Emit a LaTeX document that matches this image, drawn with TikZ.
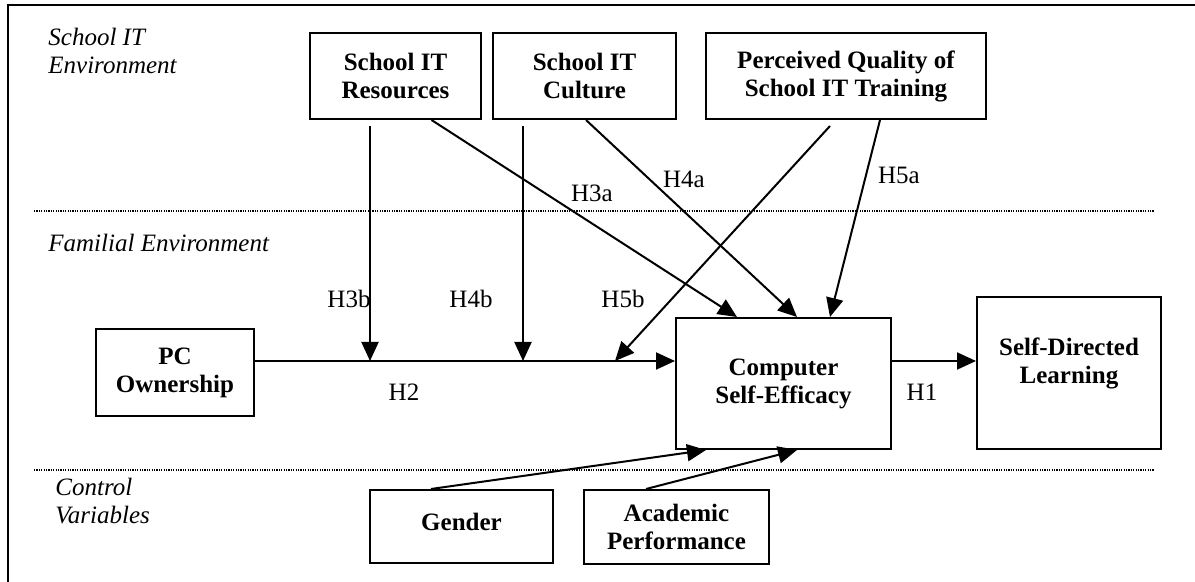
\documentclass[tikz,border=0pt]{standalone}
\usepackage{fontspec}
\setmainfont{Liberation Serif}
\usetikzlibrary{arrows.meta}

\begin{document}
\begin{tikzpicture}[x=0.5pt, y=-0.5pt,
  every node/.style={font=\fontsize{12.5}{14}\selectfont, align=center},
  box/.style={draw, line width=1pt, inner sep=0pt, font=\fontsize{12.5}{14}\selectfont\bfseries},
  arr/.style={line width=1pt, -{Triangle[length=9.5pt, width=8.5pt]}},
  sect/.style={inner sep=0pt, align=left, font=\fontsize{12.5}{14}\selectfont\itshape},
  hyp/.style={inner sep=0pt},
  divider/.style={line width=0.6pt, dash pattern=on 0.6pt off 0.6pt}]
  \useasboundingbox (0,0) rectangle (1195,582);
  % Frame
  \draw[line width=1pt] (8,582) -- (8,5) -- (1195,5);
  % Layers
  \draw[divider] (34,211) -- (1154,211);
  \draw[divider] (34,470) -- (1154,470);
  \node[sect, anchor=north west] (schoolenv) at (48,28) {School IT\\Environment};
  \node[sect, anchor=base west] (famenv) at (48,252) {Familial Environment};
  \node[sect, anchor=north west] (controls) at (55,478) {Control\\Variables};
  % Constructs
  \node[box, minimum width=85.5pt, minimum height=43pt] (res) at (395.5,76) {School IT\\Resources};
  \node[box, minimum width=91.5pt, minimum height=43pt] (cult) at (584.5,76) {School IT\\Culture};
  \node[box, minimum width=140pt, minimum height=43pt] (qual) at (846,76) {Perceived Quality of\\School IT Training};
  \node[box, minimum width=79pt, minimum height=43.5pt] (pc) at (175,372.5) {PC\\Ownership};
  \node[box, minimum width=107.5pt, minimum height=65.5pt] (cse) at (783.5,383.5) {Computer\\Self-Efficacy};
  \node[box, minimum width=92pt, minimum height=76pt, text depth=12pt] (sdl) at (1069,373) {Self-Directed\\Learning};
  \node[box, minimum width=91.5pt, minimum height=36.5pt, text depth=5pt] (gen) at (461.5,526.5) {Gender};
  \node[box, minimum width=92.5pt, minimum height=37pt] (acad) at (676.5,527) {Academic\\Performance};
  % Moderation points on the H2 path
  \coordinate (m3) at (370,361);
  \coordinate (m4) at (523,361);
  \coordinate (m5) at (615,361);
  % Main paths
  \draw[arr] (pc.east |- m3) -- (cse.west |- m3);
  \draw[arr] (cse.east |- m3) -- (sdl.west |- m3);
  % Moderators
  \draw[arr, shorten <=3pt] (res.south -| m3) -- (m3);
  \draw[arr, shorten <=3pt] (cult.south -| m4) -- (m4);
  \draw[arr] ([shift={(-8pt,-3pt)}]qual.south) -- (m5);
  % Direct effects
  \draw[arr] ([xshift=18pt]res.south) -- ([xshift=-23.25pt]cse.north);
  \draw[arr] ([xshift=0.75pt]cult.south) -- ([xshift=6.75pt]cse.north);
  \draw[arr] ([xshift=17pt]qual.south) -- ([xshift=23.25pt]cse.north);
  % Controls
  \draw[arr] ([xshift=-15.25pt]gen.north) -- ([xshift=-38.75pt]cse.south);
  \draw[arr] ([xshift=-15.25pt]acad.north) -- ([xshift=6.75pt]cse.south);
  % Hypotheses
  \node[hyp] (h1) at (922,392.5) {H1};
  \node[hyp] (h2) at (404,392.5) {H2};
  \node[hyp] (h3a) at (592,193.5) {H3a};
  \node[hyp] (h3b) at (349,299) {H3b};
  \node[hyp] (h4a) at (684,179.5) {H4a};
  \node[hyp] (h4b) at (471,299) {H4b};
  \node[hyp] (h5a) at (899,175.5) {H5a};
  \node[hyp] (h5b) at (623,299) {H5b};
\end{tikzpicture}
\end{document}
